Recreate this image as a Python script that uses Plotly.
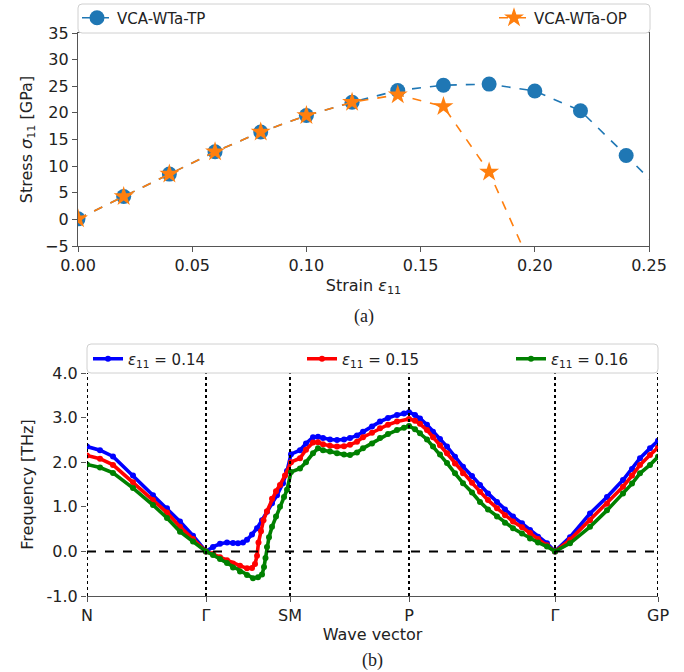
import plotly.graph_objects as go

# ---------------- data: panel (a) ----------------
strain_tp = [0.00, 0.02, 0.04, 0.06, 0.08, 0.10, 0.12, 0.14, 0.16, 0.18, 0.20, 0.22, 0.24, 0.26]
stress_tp = [0.1, 4.3, 8.5, 12.7, 16.4, 19.5, 22.0, 24.2, 25.2, 25.4, 24.1, 20.4, 12.0, 3.3]
strain_op = [0.00, 0.02, 0.04, 0.06, 0.08, 0.10, 0.12, 0.14, 0.16, 0.18, 0.20]
stress_op = [0.1, 4.3, 8.5, 12.7, 16.4, 19.5, 22.0, 23.4, 21.2, 8.9, -10.3]

# ---------------- data: panel (b) ----------------
kpath_pos = [0, 119, 203, 322, 468, 571]
kpath_labels = ["N", "Γ", "SM", "P", "Γ", "GP"]
freq_ticks = [-1.0, 0.0, 1.0, 2.0, 3.0, 4.0]
freq_ticklabels = ["-1.0", "0.0", "1.0", "2.0", "3.0", "4.0"]

band_014 = [(0, 2.35), (13, 2.27), (26, 2.13), (46, 1.70), (66, 1.26), (80, 0.97), (93, 0.67), (106, 0.35),
            (119, 0.0), (126, 0.10), (133, 0.17), (140, 0.20), (146, 0.19), (151, 0.18), (156, 0.20),
            (160, 0.26), (165, 0.38), (170, 0.52), (175, 0.70), (180, 0.89), (185, 1.08), (190, 1.26),
            (196, 1.53), (200, 1.80), (204, 2.18), (213, 2.27), (219, 2.42), (226, 2.56), (231, 2.57),
            (236, 2.54), (243, 2.51), (250, 2.50), (257, 2.51), (263, 2.54), (270, 2.60), (276, 2.68),
            (285, 2.80), (293, 2.91), (301, 2.99), (310, 3.06), (317, 3.09), (322, 3.12), (328, 3.06),
            (333, 2.98), (340, 2.84), (346, 2.68), (353, 2.52), (360, 2.35), (368, 2.12), (376, 1.90),
            (385, 1.69), (393, 1.49), (401, 1.30), (410, 1.11), (418, 0.94), (426, 0.78), (435, 0.63),
            (443, 0.48), (451, 0.33), (460, 0.18), (468, 0.0), (483, 0.32), (503, 0.85), (520, 1.22),
            (536, 1.60), (545, 1.85), (553, 2.09), (563, 2.31), (571, 2.48)]

band_015 = [(0, 2.15), (13, 2.08), (26, 1.94), (46, 1.55), (66, 1.15), (80, 0.87), (93, 0.55), (106, 0.28),
            (119, 0.0), (126, -0.06), (133, -0.13), (140, -0.20), (146, -0.27), (153, -0.32), (160, -0.38),
            (165, -0.37), (168, -0.28), (170, -0.10), (171.5, 0.20), (174, 0.45), (176.5, 0.70), (180, 0.90),
            (185, 1.18), (189, 1.35), (193, 1.49), (198, 1.70), (204, 2.00), (213, 2.09), (219, 2.28),
            (226, 2.44), (231, 2.45), (236, 2.40), (243, 2.37), (250, 2.35), (257, 2.36), (263, 2.39),
            (270, 2.46), (276, 2.56), (285, 2.66), (293, 2.76), (301, 2.84), (310, 2.91), (322, 2.97),
            (328, 2.93), (333, 2.86), (340, 2.72), (346, 2.56), (353, 2.38), (360, 2.20), (368, 1.97),
            (376, 1.75), (385, 1.54), (393, 1.34), (401, 1.15), (410, 0.97), (418, 0.81), (426, 0.67),
            (435, 0.54), (443, 0.41), (451, 0.28), (460, 0.14), (468, 0.0), (483, 0.26), (503, 0.70),
            (520, 1.07), (536, 1.45), (545, 1.70), (553, 1.94), (563, 2.16), (571, 2.33)]

band_016 = [(0, 1.95), (13, 1.88), (26, 1.76), (46, 1.42), (66, 1.04), (80, 0.75), (93, 0.44), (106, 0.22),
            (119, 0.0), (126, -0.08), (133, -0.17), (140, -0.26), (146, -0.36), (153, -0.45), (160, -0.53),
            (166, -0.60), (171, -0.58), (175, -0.52), (177, -0.35), (178.5, -0.15), (180, 0.10), (182, 0.32),
            (185, 0.55), (189, 0.78), (193, 1.00), (197, 1.22), (200, 1.38), (204, 1.78), (213, 1.86),
            (219, 2.00), (226, 2.20), (231, 2.31), (236, 2.27), (243, 2.24), (250, 2.20), (257, 2.17),
            (263, 2.16), (270, 2.22), (276, 2.31), (285, 2.42), (293, 2.54), (301, 2.63), (310, 2.72),
            (317, 2.77), (322, 2.81), (328, 2.74), (333, 2.65), (340, 2.51), (346, 2.35), (353, 2.17),
            (360, 1.98), (368, 1.75), (376, 1.53), (385, 1.32), (393, 1.11), (401, 0.94), (410, 0.78),
            (418, 0.64), (426, 0.52), (435, 0.40), (443, 0.29), (451, 0.20), (460, 0.11), (468, 0.0),
            (483, 0.18), (503, 0.55), (520, 0.92), (536, 1.30), (545, 1.52), (553, 1.75), (563, 1.94),
            (571, 2.12)]

band_names = ["<i>ε</i><sub>11</sub> = 0.14", "<i>ε</i><sub>11</sub> = 0.15", "<i>ε</i><sub>11</sub> = 0.16"]
band_colors = ["#0000ff", "#ff0000", "#008000"]

# ---------------- layout helpers ----------------
W, H = 684, 672
FONT = "DejaVu Sans"


def px(x):
    return x / W


def py(y):
    return 1 - y / H


def rounded_rect(x0, y0, x1, y1, r=4):
    # pixel box -> paper-coordinate path with rounded corners
    rx, ry = r / W, r / H
    X0, X1 = px(x0), px(x1)
    Y0, Y1 = py(y1), py(y0)  # bottom, top
    return (f"M{X0 + rx},{Y0} L{X1 - rx},{Y0} Q{X1},{Y0} {X1},{Y0 + ry} "
            f"L{X1},{Y1 - ry} Q{X1},{Y1} {X1 - rx},{Y1} L{X0 + rx},{Y1} "
            f"Q{X0},{Y1} {X0},{Y1 - ry} L{X0},{Y0 + ry} Q{X0},{Y0} {X0 + rx},{Y0} Z")


fig = go.Figure()

# panel (a)
fig.add_trace(go.Scatter(x=strain_tp, y=stress_tp, mode="lines+markers", name="VCA-WTa-TP",
                         line=dict(color="#1f77b4", width=1.6, dash="dash"),
                         marker=dict(symbol="circle", size=15, color="#1f77b4"),
                         xaxis="x", yaxis="y", legend="legend", showlegend=True))
fig.add_trace(go.Scatter(x=strain_op, y=stress_op, mode="lines+markers", name="VCA-WTa-OP",
                         line=dict(color="#ff7f0e", width=1.6, dash="dash"),
                         marker=dict(symbol="star", size=15, color="#ff7f0e"),
                         xaxis="x", yaxis="y", legend="legend2", showlegend=True))

# panel (b)
for i, (band, name, col) in enumerate(zip([band_014, band_015, band_016], band_names, band_colors)):
    fig.add_trace(go.Scatter(x=[p[0] for p in band], y=[p[1] for p in band], mode="lines+markers",
                             name=name, line=dict(color=col, width=3.6),
                             marker=dict(size=6, color=col),
                             xaxis="x2", yaxis="y2", legend=f"legend{i + 3}", showlegend=True))

axis_common = dict(showgrid=False, zeroline=False, showline=True, linecolor="#555555", linewidth=1.2,
                   ticks="outside", ticklen=5, tickwidth=1.2, tickcolor="#555555",
                   tickfont=dict(family=FONT, size=16, color="#222222"))

shapes = []
# vertical dotted lines at high-symmetry points
for k in kpath_pos:
    shapes.append(dict(type="line", xref="x2", yref="y2 domain", x0=k, x1=k, y0=0, y1=1,
                       line=dict(color="black", width=2, dash="dot"), layer="above"))
# zero line
shapes.append(dict(type="line", xref="x2 domain", yref="y2", x0=0, x1=1, y0=0, y1=0,
                   line=dict(color="black", width=2, dash="dash"), layer="above"))
# legend frames
shapes.append(dict(type="path", xref="paper", yref="paper", path=rounded_rect(78, 4, 650, 33),
                   line=dict(color="#d0d0d0", width=1), fillcolor="white", layer="above"))
shapes.append(dict(type="path", xref="paper", yref="paper", path=rounded_rect(87, 344, 658, 373),
                   line=dict(color="#d0d0d0", width=1), fillcolor="white", layer="above"))

legend_common = dict(bgcolor="rgba(0,0,0,0)", borderwidth=0, xanchor="left", yanchor="middle",
                     font=dict(family=FONT, size=15, color="#222222"), orientation="h")

fig.update_layout(
    width=W, height=H, margin=dict(l=0, r=0, t=0, b=0),
    paper_bgcolor="white", plot_bgcolor="white", showlegend=True,
    font=dict(family=FONT, size=16, color="#222222"),
    xaxis=dict(axis_common, domain=[px(78), px(649)], range=[0, 0.25],
               tickvals=[0, 0.05, 0.10, 0.15, 0.20, 0.25],
               ticktext=["0.00", "0.05", "0.10", "0.15", "0.20", "0.25"], mirror=True,
               anchor="y", automargin=False,
               title=dict(text="Strain <i>ε</i><sub>11</sub>", font=dict(family=FONT, size=16), standoff=5)),
    yaxis=dict(axis_common, domain=[py(246), py(33)], range=[-5, 35], dtick=5, mirror=True,
               anchor="x", automargin=False,
               title=dict(text="Stress <i>σ</i><sub>11</sub> [GPa]", font=dict(family=FONT, size=16), standoff=8)),
    xaxis2=dict(axis_common, domain=[px(87), px(658)], range=[0, 571], tickvals=kpath_pos,
                ticktext=kpath_labels, anchor="y2", automargin=False,
                title=dict(text="Wave vector", font=dict(family=FONT, size=16), standoff=4)),
    yaxis2=dict(axis_common, domain=[py(596), py(373)], range=[-1, 4], tickvals=freq_ticks,
                ticktext=freq_ticklabels, showline=False, anchor="x2", automargin=False,
                title=dict(text="Frequency [THz]", font=dict(family=FONT, size=16), standoff=8)),
    shapes=shapes,
    legend=dict(legend_common, x=px(77), y=py(18)),
    legend2=dict(legend_common, x=px(494), y=py(18)),
    legend3=dict(legend_common, x=px(88), y=py(359)),
    legend4=dict(legend_common, x=px(302), y=py(359)),
    legend5=dict(legend_common, x=px(511), y=py(359)),
    annotations=[
        dict(text="(a)", x=px(363.5), y=py(316), xref="paper", yref="paper", showarrow=False,
             font=dict(family="Liberation Serif", size=18, color="#222222"), xanchor="center", yanchor="middle"),
        dict(text="(b)", x=px(372.5), y=py(660), xref="paper", yref="paper", showarrow=False,
             font=dict(family="Liberation Serif", size=18, color="#222222"), xanchor="center", yanchor="middle"),
    ],
)

fig.write_html("out.html")
